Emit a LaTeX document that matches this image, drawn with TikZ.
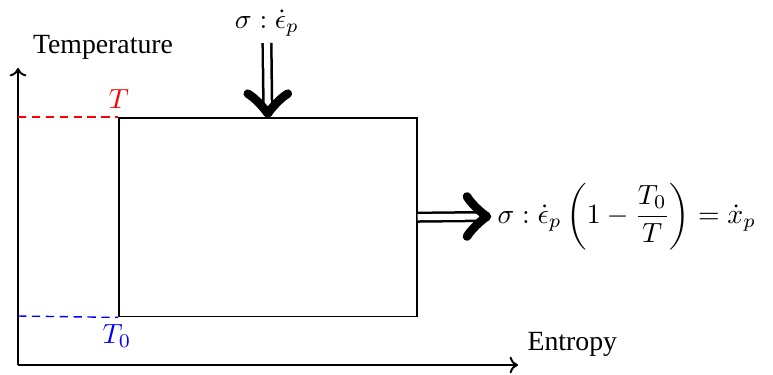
\documentclass[tikz,border=0pt]{standalone}
\usepackage{fontspec}
\newfontfamily\tnr{Liberation Serif}
\usetikzlibrary{arrows.meta}
\begin{document}
\begin{tikzpicture}[x=0.36pt,y=-0.36pt,
  axisline/.style={line width=0.7pt,-{To[length=3pt,width=6pt]}},
  boxstyle/.style={draw,line width=0.55pt,inner sep=0pt,minimum width=107.3pt,minimum height=71.6pt,anchor=north west},
  dbl/.style={double,line width=0.9pt,double distance=2.2pt},
  chev/.style={line width=3.1pt,line cap=round,line join=round},
  lvl/.style={line width=0.5pt,dash pattern=on 3pt off 2pt},
  txt/.style={inner sep=0pt,font=\tnr}]
\useasboundingbox (0,0) rectangle (773,374);
% axes
\coordinate (origin) at (18,365);
\coordinate (ytop) at (18,68);
\coordinate (xend) at (518,365);
\draw[axisline] (origin) -- (ytop);
\draw[axisline] (origin) -- (xend);
\node[txt,anchor=base] (ylab) at (103,53) {Temperature};
\node[txt,anchor=base west] (xlab) at (527,350) {Entropy};
% box
\node[boxstyle] (box) at (118,117) {};
% level lines
\coordinate (yT) at (18,117);
\coordinate (yT0) at (18,316);
\draw[lvl,red] (yT) -- (box.north west);
\draw[lvl,blue] (yT0) -- (box.south west);
\node[inner sep=0pt,anchor=base,text=red] (Tlab) at (119,108) {$T$};
\node[inner sep=0pt,anchor=base,text=blue] (T0lab) at (117,343) {$T_0$};
% input arrow
\node[inner sep=0pt,anchor=base] (inlab) at (267,28) {$\sigma:\dot\epsilon_p$};
\coordinate (dtop) at (267,43);
\coordinate (dtip) at ([yshift=1.2pt]box.north);
\draw[dbl] (dtop) -- ([yshift=2pt]dtip);
\draw[chev] ([shift={(-20,-20)}]dtip) .. controls ([shift={(-13,-16)}]dtip) and ([shift={(-3,-5)}]dtip) .. (dtip)
  .. controls ([shift={(3,-5)}]dtip) and ([shift={(13,-16)}]dtip) .. ([shift={(20,-20)}]dtip);
% output arrow
\coordinate (rtip) at (487,216.5);
\draw[dbl] (box.east) -- ([xshift=-2pt]rtip);
\draw[chev] ([shift={(-20,-20)}]rtip) .. controls ([shift={(-16,-13)}]rtip) and ([shift={(-5,-3)}]rtip) .. (rtip)
  .. controls ([shift={(-5,3)}]rtip) and ([shift={(-16,13)}]rtip) .. ([shift={(-20,20)}]rtip);
\node[inner sep=0pt,anchor=west] (outlab) at (497,216.5) {$\sigma:\dot\epsilon_p\left(1-{\displaystyle\frac{T_0}{T}}\right)=\dot x_p$};
\end{tikzpicture}
\end{document}
